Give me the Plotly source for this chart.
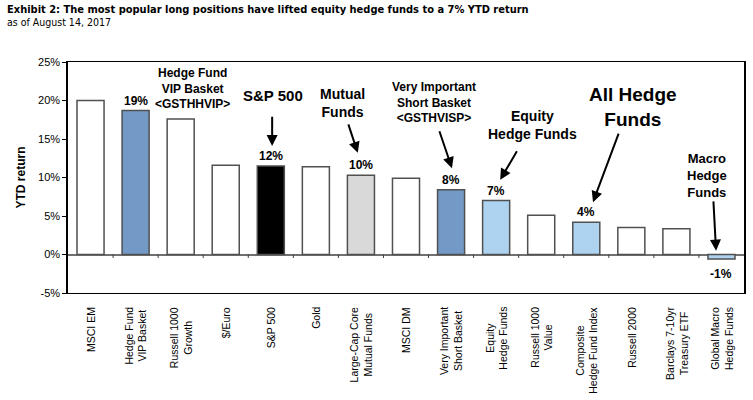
import plotly.graph_objects as go

categories = ["MSCI EM", "Hedge Fund<br>VIP Basket", "Russell 1000<br>Growth", "$/Euro", "S&P 500",
              "Gold", "Large-Cap Core<br>Mutual Funds", "MSCI DM", "Very Important<br>Short Basket",
              "Equity<br>Hedge Funds", "Russell 1000<br>Value", "Composite<br>Hedge Fund Index",
              "Russell 2000", "Barclays 7-10yr<br>Treasury ETF", "Global Macro<br>Hedge Funds"]
values = [20.0, 18.7, 17.6, 11.6, 11.5, 11.4, 10.3, 9.9, 8.4, 7.0, 5.1, 4.2, 3.5, 3.35, -0.6]
value_labels = ["", "19%", "", "", "12%", "", "10%", "", "8%", "7%", "", "4%", "", "", "-1%"]
bar_colors = ["#FFFFFF", "#7399C6", "#FFFFFF", "#FFFFFF", "#000000", "#FFFFFF", "#D9D9D9", "#FFFFFF",
              "#7399C6", "#AED3F1", "#FFFFFF", "#AED3F1", "#FFFFFF", "#FFFFFF", "#AED3F1"]
y_ticks = [-5, 0, 5, 10, 15, 20, 25]
y_tick_text = ["-5%", "0%", "5%", "10%", "15%", "20%", "25%"]

callout_text = ["Hedge Fund<br>VIP Basket<br><GSTHHVIP>", "S&P 500", "Mutual<br>Funds",
                "Very Important<br>Short Basket<br><GSTHVISP>", "Equity<br>Hedge Funds",
                "All Hedge<br>Funds", "Macro<br>Hedge<br>Funds"]
callout_x = [2.27, 4.05, 5.58, 7.63, 9.8, 12.04, 13.68]
callout_y = [21.5, 20.6, 19.7, 19.7, 16.8, 19.2, 10.3]
callout_size = [12, 15, 14, 12, 14, 19, 13]
arrow_from = [None, (4.03, 18.1), (5.71, 17.1), (7.73, 16.2), (9.48, 13.6), (11.73, 15.9), (13.82, 7.1)]
arrow_to = [None, (4.03, 14.1), (5.93, 13.2), (8.02, 11.2), (9.09, 9.7), (11.15, 6.8), (13.88, 0.5)]

FONT = "Liberation Sans, Arial, sans-serif"
NARROW = "Liberation Sans Narrow, Arial Narrow, DejaVu Sans Condensed, sans-serif"

xpos = list(range(len(categories)))

fig = go.Figure()
fig.add_trace(go.Bar(
    x=xpos, y=values, width=0.6,
    marker=dict(color=bar_colors, line=dict(color="#505050", width=1.5)),
    hoverinfo="skip",
))

annotations = []
for i, c in enumerate(categories):
    annotations.append(dict(x=i, y=0, xref="x", yref="paper", text=c, showarrow=False,
                            textangle=-90, xanchor="center", yanchor="top", yshift=-12,
                            align="center", font=dict(family=FONT, size=10.5, color="#000")))
for i, (v, lab) in enumerate(zip(values, value_labels)):
    if not lab:
        continue
    if v >= 0:
        annotations.append(dict(x=i, y=v, xref="x", yref="y", text="<b>%s</b>" % lab, showarrow=False,
                                yanchor="bottom", yshift=1, font=dict(family=FONT, size=12, color="#000")))
    else:
        annotations.append(dict(x=i, y=v, xref="x", yref="y", text="<b>%s</b>" % lab, showarrow=False,
                                yanchor="top", yshift=-6, font=dict(family=FONT, size=12, color="#000")))
for t, cx, cy, fs in zip(callout_text, callout_x, callout_y, callout_size):
    annotations.append(dict(x=cx, y=cy, xref="x", yref="y", text="<b>%s</b>" % t, showarrow=False,
                            align="center", xanchor="center", yanchor="middle",
                            font=dict(family=FONT, size=fs, color="#000")))
for a, b in zip(arrow_from, arrow_to):
    if a is None:
        continue
    annotations.append(dict(x=b[0], y=b[1], ax=a[0], ay=a[1], xref="x", yref="y", axref="x", ayref="y",
                            text="", showarrow=True, arrowhead=2, arrowsize=1.1, arrowwidth=2,
                            arrowcolor="#000"))
annotations.append(dict(x=-63 / 676, y=1, xref="paper", yref="paper", yshift=53,
                        text="<b>Exhibit 2: The most popular long positions have lifted equity hedge funds to a 7% YTD return</b>",
                        showarrow=False, xanchor="left", yanchor="middle",
                        font=dict(family=NARROW, size=11, color="#000")))
annotations.append(dict(x=-63 / 676, y=1, xref="paper", yref="paper", yshift=40, text="as of August 14, 2017",
                        showarrow=False, xanchor="left", yanchor="middle",
                        font=dict(family=NARROW, size=10.5, color="#000")))

shapes = []
for i in range(len(categories) - 1):
    shapes.append(dict(type="line", xref="x", yref="y", x0=i + 0.5, x1=i + 0.5, y0=0, y1=-0.45,
                       line=dict(color="#404040", width=1)))

fig.update_layout(
    width=753, height=400,
    margin=dict(l=68, r=9, t=62, b=107),
    paper_bgcolor="white", plot_bgcolor="white",
    showlegend=False, bargap=0.4,
    annotations=annotations, shapes=shapes,
    xaxis=dict(range=[-0.5, len(categories) - 0.5], showticklabels=False, ticks="",
               showline=True, linecolor="#000", linewidth=1.2, mirror=True,
               showgrid=False, zeroline=False),
    yaxis=dict(range=[-5, 25], tickvals=y_ticks, ticktext=y_tick_text, ticks="outside", ticklen=4,
               tickcolor="#000", showline=True, linecolor="#000", linewidth=1.5, mirror=True,
               showgrid=False, zeroline=True, zerolinecolor="#707070", zerolinewidth=1.5,
               automargin=False,
               tickfont=dict(family=FONT, size=11, color="#000"),
               title=dict(text="<b>YTD return</b>", font=dict(family=FONT, size=12, color="#000"),
                          standoff=10)),
)

fig.write_html("out.html", config={"displayModeBar": False},
               post_script="document.body.style.margin='0';")
